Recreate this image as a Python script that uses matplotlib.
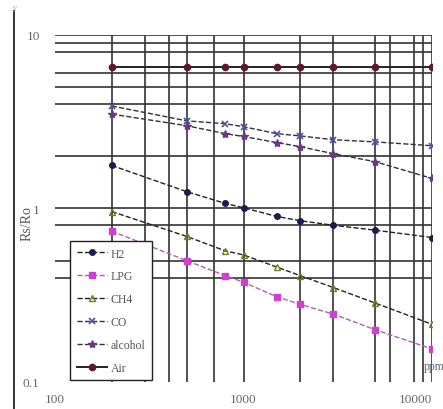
import matplotlib
matplotlib.use("Agg")
import matplotlib.pyplot as plt
from matplotlib.lines import Line2D

# concentration (ppm) and Rs/Ro
ppm = [200, 500, 800, 1000, 1500, 2000, 3000, 5000, 10000]

h2 = [1.77, 1.25, 1.07, 1.01, 0.90, 0.85, 0.80, 0.75, 0.68]
lpg = [0.74, 0.50, 0.41, 0.376, 0.31, 0.28, 0.246, 0.20, 0.155]
ch4 = [0.96, 0.69, 0.57, 0.54, 0.46, 0.41, 0.35, 0.285, 0.215]
co = [3.9, 3.2, 3.08, 2.96, 2.70, 2.62, 2.49, 2.42, 2.30]
alcohol = [3.5, 3.0, 2.70, 2.60, 2.40, 2.27, 2.07, 1.86, 1.49]
air = [6.5, 6.5, 6.5, 6.5, 6.5, 6.5, 6.5, 6.5, 6.5]

grid_x = [200, 300, 400, 500, 700, 1000, 2000, 3000, 5000, 6000, 8000, 9000, 10000]
grid_y = [10, 9, 8, 6, 5, 4, 2, 1, 0.8, 0.5, 0.4]

plt.rcParams["font.family"] = ["Liberation Serif", "DejaVu Serif"]

fig = plt.figure(figsize=(4.43, 4.10), dpi=100)
ax = fig.add_axes([0.1242, 0.0659, 0.851, 0.8463])
ax.set_xscale("log")
ax.set_yscale("log")
ax.set_xlim(100, 10000)
ax.set_ylim(0.1, 10)

# the grid of the scanned sheet (not every decade line is there)
ax.vlines(grid_x, 0.1, 10, color="#333333", lw=1.2, zorder=1)
ax.hlines(grid_y, 100, 10000, color="#333333", lw=1.2, zorder=1)

ax.plot(ppm, h2, "--", color="#222222", lw=1, marker="o", ms=4,
        mfc="#1c1c50", mec="#1c1c50", label="H2", zorder=3)
ax.plot(ppm, lpg, "--", color="#b060b0", lw=1, marker="s", ms=4,
        mfc="#d040d0", mec="#d040d0", label="LPG", zorder=3)
ax.plot(ppm, ch4, "--", color="#222222", lw=1, marker="^", ms=5,
        mfc="none", mec="#7a7a20", label="CH4", zorder=3)
ax.plot(ppm, co, "--", color="#303040", lw=1, marker="x", ms=5,
        mec="#5050a0", mew=1.2, label="CO", zorder=3)
ax.plot(ppm, alcohol, "--", color="#303040", lw=1, marker="*", ms=6,
        mfc="#6a3a80", mec="#6a3a80", label="alcohol", zorder=3)
ax.plot(ppm, air, "-", color="#222222", lw=1.4, marker="o", ms=4.5,
        mfc="#5a1a2a", mec="#5a1a2a", label="Air", zorder=3)

for s in ax.spines.values():
    s.set_visible(False)

ax.set_xticks([100, 1000, 10000], ["100", "1000", "10000"])
ax.set_yticks([0.1, 1, 10], ["0.1", "1", "10"])
ax.minorticks_off()
ax.tick_params(axis="both", length=0, labelsize=9.5, labelcolor="#666666")
ax.tick_params(axis="x", pad=8)
ax.tick_params(axis="y", pad=11)
ax.get_xticklabels()[-1].set_horizontalalignment("right")

ax.set_ylabel("Rs/Ro", fontsize=10, color="#555555")
ax.yaxis.set_label_coords(-0.058, 0.46)

ax.text(9000, 0.124, "ppm", fontsize=8.5, color="#666666",
        ha="left", va="center", clip_on=False)

leg = ax.legend(loc="upper left", bbox_to_anchor=(0.04, 0.406),
                borderaxespad=0, fontsize=8.5, labelspacing=0.92,
                handlelength=2.6, handletextpad=0.3, borderpad=0.55,
                fancybox=False, framealpha=1, edgecolor="#222222")
leg.get_frame().set_linewidth(1)
for t in leg.get_texts():
    t.set_color("#555555")

# long left axis line of the scan
fig.add_artist(Line2D([0.0316, 0.0316], [0.0, 0.97], color="#333333", lw=1.4))
fig.text(0.028, 0.975, "y", fontsize=6, color="#aaaaaa")

fig.savefig("out.png", dpi=100)
